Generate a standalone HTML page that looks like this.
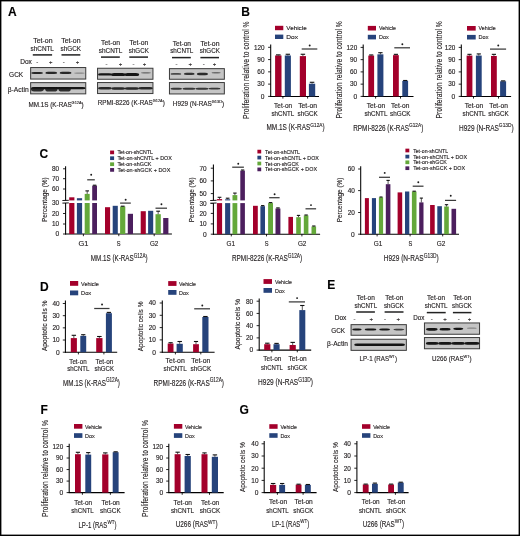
<!DOCTYPE html>
<html><head><meta charset="utf-8"><style>
html,body{margin:0;padding:0;background:#fff;overflow:hidden;}
svg{display:block;will-change:transform;}
text{font-family:"Liberation Sans",sans-serif;stroke:#231f20;stroke-width:0.14px;}
</style></head><body>
<svg width="520" height="536" viewBox="0 0 520 536">
<defs>
<filter id="bl" x="-20%" y="-100%" width="140%" height="300%"><feGaussianBlur stdDeviation="0.6"/></filter>
</defs>
<rect x="0" y="0" width="520" height="536" fill="#fff"/>

<rect x="0.00" y="0.00" width="520.00" height="536.00" fill="none" stroke="#000" stroke-width="2.8"/>
<text x="7.90" y="16.00" font-size="12" font-weight="bold" fill="#000">A</text>
<text x="241.20" y="15.70" font-size="12" font-weight="bold" fill="#000">B</text>
<text x="39.60" y="157.50" font-size="12" font-weight="bold" fill="#000">C</text>
<text x="40.00" y="290.60" font-size="12" font-weight="bold" fill="#000">D</text>
<text x="327.20" y="288.80" font-size="12" font-weight="bold" fill="#000">E</text>
<text x="40.50" y="414.00" font-size="12" font-weight="bold" fill="#000">F</text>
<text x="239.40" y="413.60" font-size="12" font-weight="bold" fill="#000">G</text>
<text x="33.30" y="42.90" font-size="6.4" textLength="19.20" lengthAdjust="spacingAndGlyphs" fill="#231f20">Tet-on</text>
<text x="30.60" y="50.90" font-size="6.4" textLength="23.30" lengthAdjust="spacingAndGlyphs" fill="#231f20">shCNTL</text>
<text x="61.30" y="42.90" font-size="6.4" textLength="19.20" lengthAdjust="spacingAndGlyphs" fill="#231f20">Tet-on</text>
<text x="60.60" y="50.90" font-size="6.4" textLength="20.50" lengthAdjust="spacingAndGlyphs" fill="#231f20">shGCK</text>
<line x1="32.80" y1="54.90" x2="52.10" y2="54.90" stroke="#222" stroke-width="1.5"/>
<line x1="61.50" y1="54.90" x2="80.30" y2="54.90" stroke="#222" stroke-width="1.5"/>
<text x="37.30" y="63.80" font-size="6" text-anchor="middle" fill="#231f20">-</text>
<text x="50.70" y="63.80" font-size="6" text-anchor="middle" fill="#231f20">+</text>
<text x="63.80" y="63.80" font-size="6" text-anchor="middle" fill="#231f20">-</text>
<text x="77.60" y="63.80" font-size="6" text-anchor="middle" fill="#231f20">+</text>
<text x="20.20" y="63.80" font-size="6.4" textLength="11.70" lengthAdjust="spacingAndGlyphs" fill="#231f20">Dox</text>
<text x="9.10" y="77.00" font-size="6.9" textLength="14.10" lengthAdjust="spacingAndGlyphs" fill="#231f20">GCK</text>
<text x="7.70" y="91.70" font-size="6.9" textLength="21.00" lengthAdjust="spacingAndGlyphs" fill="#231f20">β-Actin</text>
<rect x="30.65" y="67.55" width="55.10" height="11.50" fill="#c5c5c5" stroke="#3a3a3a" stroke-width="1.0"/>
<rect x="30.65" y="82.65" width="55.10" height="11.20" fill="#c5c5c5" stroke="#3a3a3a" stroke-width="1.0"/>
<rect x="31.20" y="71.90" width="11.80" height="2.00" rx="3" ry="1.00" fill="#161616" opacity="0.9" filter="url(#bl)"/>
<rect x="45.30" y="71.85" width="11.90" height="2.10" rx="3" ry="1.05" fill="#161616" opacity="0.9" filter="url(#bl)"/>
<rect x="59.60" y="71.85" width="11.90" height="2.10" rx="3" ry="1.05" fill="#161616" opacity="0.9" filter="url(#bl)"/>
<rect x="74.00" y="72.45" width="10.80" height="1.30" rx="3" ry="0.65" fill="#161616" opacity="0.35" filter="url(#bl)"/>
<rect x="31.00" y="87.10" width="54.60" height="2.20" rx="3" ry="1.10" fill="#161616" opacity="1.0" filter="url(#bl)"/>
<rect x="31.00" y="87.20" width="12.70" height="4.20" rx="3" ry="2.10" fill="#161616" opacity="0.85" filter="url(#bl)"/>
<rect x="45.30" y="87.25" width="12.10" height="4.30" rx="3" ry="2.15" fill="#161616" opacity="0.85" filter="url(#bl)"/>
<rect x="58.60" y="87.25" width="12.10" height="4.30" rx="3" ry="2.15" fill="#161616" opacity="0.85" filter="url(#bl)"/>
<text x="28.50" y="106.90" font-size="6.8" textLength="55.20" lengthAdjust="spacingAndGlyphs" fill="#231f20">MM.1S (K-RAS<tspan font-size="4.22" dy="-3.06">G12A</tspan><tspan dy="3.06">)</tspan></text>
<text x="101.10" y="45.00" font-size="6.4" textLength="18.90" lengthAdjust="spacingAndGlyphs" fill="#231f20">Tet-on</text>
<text x="98.80" y="52.90" font-size="6.4" textLength="23.50" lengthAdjust="spacingAndGlyphs" fill="#231f20">shCNTL</text>
<text x="129.40" y="45.00" font-size="6.4" textLength="18.80" lengthAdjust="spacingAndGlyphs" fill="#231f20">Tet-on</text>
<text x="128.80" y="52.90" font-size="6.4" textLength="20.00" lengthAdjust="spacingAndGlyphs" fill="#231f20">shGCK</text>
<line x1="101.00" y1="57.10" x2="119.80" y2="57.10" stroke="#222" stroke-width="1.5"/>
<line x1="129.30" y1="57.10" x2="148.00" y2="57.10" stroke="#222" stroke-width="1.5"/>
<text x="106.50" y="66.30" font-size="6" text-anchor="middle" fill="#231f20">-</text>
<text x="120.40" y="66.30" font-size="6" text-anchor="middle" fill="#231f20">+</text>
<text x="133.60" y="66.30" font-size="6" text-anchor="middle" fill="#231f20">-</text>
<text x="144.40" y="66.30" font-size="6" text-anchor="middle" fill="#231f20">+</text>
<rect x="97.55" y="68.25" width="55.40" height="11.00" fill="#c5c5c5" stroke="#3a3a3a" stroke-width="1.0"/>
<rect x="97.55" y="82.55" width="55.40" height="11.00" fill="#c5c5c5" stroke="#3a3a3a" stroke-width="1.0"/>
<rect x="98.00" y="73.20" width="14.00" height="2.40" rx="3" ry="1.20" fill="#161616" opacity="1.0" filter="url(#bl)"/>
<rect x="111.00" y="72.90" width="14.50" height="3.00" rx="3" ry="1.50" fill="#161616" opacity="1.0" filter="url(#bl)"/>
<rect x="124.50" y="72.90" width="14.60" height="3.00" rx="3" ry="1.50" fill="#161616" opacity="1.0" filter="url(#bl)"/>
<rect x="140.90" y="72.15" width="10.10" height="1.30" rx="3" ry="0.65" fill="#161616" opacity="0.55" filter="url(#bl)"/>
<rect x="98.00" y="87.05" width="13.80" height="2.50" rx="3" ry="1.25" fill="#161616" opacity="0.9" filter="url(#bl)"/>
<rect x="111.30" y="87.25" width="13.90" height="2.50" rx="3" ry="1.25" fill="#161616" opacity="0.9" filter="url(#bl)"/>
<rect x="124.70" y="87.25" width="14.30" height="2.50" rx="3" ry="1.25" fill="#161616" opacity="0.9" filter="url(#bl)"/>
<rect x="138.50" y="87.00" width="14.30" height="2.40" rx="3" ry="1.20" fill="#161616" opacity="0.9" filter="url(#bl)"/>
<text x="97.70" y="105.40" font-size="6.8" textLength="67.10" lengthAdjust="spacingAndGlyphs" fill="#231f20">RPMI-8226 (K-RAS<tspan font-size="4.22" dy="-3.06">G12A</tspan><tspan dy="3.06">)</tspan></text>
<text x="172.70" y="45.50" font-size="6.4" textLength="18.30" lengthAdjust="spacingAndGlyphs" fill="#231f20">Tet-on</text>
<text x="170.20" y="53.30" font-size="6.4" textLength="23.10" lengthAdjust="spacingAndGlyphs" fill="#231f20">shCNTL</text>
<text x="200.40" y="45.50" font-size="6.4" textLength="19.10" lengthAdjust="spacingAndGlyphs" fill="#231f20">Tet-on</text>
<text x="199.80" y="53.30" font-size="6.4" textLength="20.00" lengthAdjust="spacingAndGlyphs" fill="#231f20">shGCK</text>
<line x1="172.00" y1="57.60" x2="190.80" y2="57.60" stroke="#222" stroke-width="1.5"/>
<line x1="200.40" y1="57.60" x2="219.00" y2="57.60" stroke="#222" stroke-width="1.5"/>
<text x="176.60" y="66.30" font-size="6" text-anchor="middle" fill="#231f20">-</text>
<text x="190.20" y="66.30" font-size="6" text-anchor="middle" fill="#231f20">+</text>
<text x="203.80" y="66.30" font-size="6" text-anchor="middle" fill="#231f20">-</text>
<text x="214.40" y="66.30" font-size="6" text-anchor="middle" fill="#231f20">+</text>
<rect x="169.45" y="68.65" width="54.90" height="10.60" fill="#c5c5c5" stroke="#3a3a3a" stroke-width="1.0"/>
<rect x="169.45" y="82.55" width="54.90" height="11.40" fill="#c5c5c5" stroke="#3a3a3a" stroke-width="1.0"/>
<rect x="170.50" y="72.95" width="10.80" height="1.90" rx="3" ry="0.95" fill="#161616" opacity="0.7" filter="url(#bl)"/>
<rect x="183.90" y="72.75" width="10.70" height="2.30" rx="3" ry="1.15" fill="#161616" opacity="0.82" filter="url(#bl)"/>
<rect x="196.80" y="72.65" width="11.20" height="2.50" rx="3" ry="1.25" fill="#161616" opacity="0.88" filter="url(#bl)"/>
<rect x="211.50" y="72.00" width="9.30" height="1.40" rx="3" ry="0.70" fill="#161616" opacity="0.5" filter="url(#bl)"/>
<rect x="170.50" y="87.65" width="11.50" height="2.10" rx="3" ry="1.05" fill="#161616" opacity="0.8" filter="url(#bl)"/>
<rect x="182.50" y="87.65" width="13.00" height="2.10" rx="3" ry="1.05" fill="#161616" opacity="0.8" filter="url(#bl)"/>
<rect x="195.50" y="87.65" width="13.00" height="2.10" rx="3" ry="1.05" fill="#161616" opacity="0.8" filter="url(#bl)"/>
<rect x="208.50" y="87.65" width="12.00" height="1.90" rx="3" ry="0.95" fill="#161616" opacity="0.8" filter="url(#bl)"/>
<text x="172.80" y="106.00" font-size="6.8" textLength="51.40" lengthAdjust="spacingAndGlyphs" fill="#231f20">H929 (N-RAS<tspan font-size="4.22" dy="-3.06">G13D</tspan><tspan dy="3.06">)</tspan></text>
<text x="356.70" y="300.00" font-size="6.4" textLength="18.10" lengthAdjust="spacingAndGlyphs" fill="#231f20">Tet-on</text>
<text x="354.40" y="307.70" font-size="6.4" textLength="22.70" lengthAdjust="spacingAndGlyphs" fill="#231f20">shCNTL</text>
<text x="385.20" y="300.00" font-size="6.4" textLength="18.10" lengthAdjust="spacingAndGlyphs" fill="#231f20">Tet-on</text>
<text x="384.00" y="307.70" font-size="6.4" textLength="20.00" lengthAdjust="spacingAndGlyphs" fill="#231f20">shGCK</text>
<line x1="356.20" y1="312.00" x2="374.90" y2="312.00" stroke="#222" stroke-width="1.5"/>
<line x1="384.60" y1="312.00" x2="403.50" y2="312.00" stroke="#222" stroke-width="1.5"/>
<text x="354.60" y="320.90" font-size="6" text-anchor="middle" fill="#231f20">-</text>
<text x="371.20" y="320.90" font-size="6" text-anchor="middle" fill="#231f20">+</text>
<text x="385.10" y="320.90" font-size="6" text-anchor="middle" fill="#231f20">-</text>
<text x="398.20" y="320.90" font-size="6" text-anchor="middle" fill="#231f20">+</text>
<text x="334.70" y="319.60" font-size="6.4" textLength="11.70" lengthAdjust="spacingAndGlyphs" fill="#231f20">Dox</text>
<text x="331.20" y="332.80" font-size="6.9" textLength="13.90" lengthAdjust="spacingAndGlyphs" fill="#231f20">GCK</text>
<text x="327.10" y="345.50" font-size="6.9" textLength="20.80" lengthAdjust="spacingAndGlyphs" fill="#231f20">β-Actin</text>
<rect x="351.05" y="324.65" width="55.30" height="10.60" fill="#c5c5c5" stroke="#3a3a3a" stroke-width="1.0"/>
<rect x="351.05" y="339.25" width="55.30" height="11.10" fill="#c5c5c5" stroke="#3a3a3a" stroke-width="1.0"/>
<rect x="352.20" y="328.60" width="9.50" height="1.80" rx="3" ry="0.90" fill="#161616" opacity="1.0" filter="url(#bl)"/>
<rect x="364.70" y="328.60" width="11.70" height="1.80" rx="3" ry="0.90" fill="#161616" opacity="1.0" filter="url(#bl)"/>
<rect x="379.20" y="328.60" width="10.80" height="1.80" rx="3" ry="0.90" fill="#161616" opacity="1.0" filter="url(#bl)"/>
<rect x="393.30" y="328.80" width="11.00" height="1.60" rx="3" ry="0.80" fill="#161616" opacity="0.75" filter="url(#bl)"/>
<rect x="354.20" y="343.55" width="50.80" height="2.50" rx="3" ry="1.25" fill="#161616" opacity="1.0" filter="url(#bl)"/>
<text x="359.60" y="360.90" font-size="6.9" textLength="37.40" lengthAdjust="spacingAndGlyphs" fill="#231f20">LP-1 (RAS<tspan font-size="4.28" dy="-3.11">WT</tspan><tspan dy="3.11">)</tspan></text>
<text x="427.00" y="300.00" font-size="6.4" textLength="18.10" lengthAdjust="spacingAndGlyphs" fill="#231f20">Tet-on</text>
<text x="424.70" y="307.70" font-size="6.4" textLength="22.70" lengthAdjust="spacingAndGlyphs" fill="#231f20">shCNTL</text>
<text x="453.20" y="300.00" font-size="6.4" textLength="18.10" lengthAdjust="spacingAndGlyphs" fill="#231f20">Tet-on</text>
<text x="452.10" y="307.70" font-size="6.4" textLength="19.90" lengthAdjust="spacingAndGlyphs" fill="#231f20">shGCK</text>
<line x1="426.80" y1="312.60" x2="445.70" y2="312.60" stroke="#222" stroke-width="1.5"/>
<line x1="452.90" y1="312.60" x2="471.40" y2="312.60" stroke="#222" stroke-width="1.5"/>
<text x="431.80" y="320.90" font-size="6" text-anchor="middle" fill="#231f20">-</text>
<text x="444.90" y="320.90" font-size="6" text-anchor="middle" fill="#231f20">+</text>
<text x="458.80" y="320.90" font-size="6" text-anchor="middle" fill="#231f20">-</text>
<text x="469.50" y="320.90" font-size="6" text-anchor="middle" fill="#231f20">+</text>
<text x="413.20" y="320.00" font-size="6.4" textLength="11.20" lengthAdjust="spacingAndGlyphs" fill="#231f20">Dox</text>
<rect x="424.45" y="322.95" width="55.10" height="11.30" fill="#c5c5c5" stroke="#3a3a3a" stroke-width="1.0"/>
<rect x="424.45" y="337.55" width="55.10" height="11.20" fill="#c5c5c5" stroke="#3a3a3a" stroke-width="1.0"/>
<rect x="426.00" y="327.95" width="11.70" height="2.70" rx="3" ry="1.35" fill="#161616" opacity="1.0" filter="url(#bl)"/>
<rect x="439.50" y="328.00" width="11.10" height="2.40" rx="3" ry="1.20" fill="#161616" opacity="1.0" filter="url(#bl)"/>
<rect x="453.20" y="327.70" width="10.10" height="2.20" rx="3" ry="1.10" fill="#161616" opacity="1.0" filter="url(#bl)"/>
<rect x="466.90" y="327.55" width="9.90" height="1.30" rx="3" ry="0.65" fill="#161616" opacity="0.35" filter="url(#bl)"/>
<rect x="425.80" y="342.10" width="12.70" height="2.60" rx="3" ry="1.30" fill="#161616" opacity="1.0" filter="url(#bl)"/>
<rect x="438.00" y="342.10" width="14.00" height="2.60" rx="3" ry="1.30" fill="#161616" opacity="1.0" filter="url(#bl)"/>
<rect x="451.50" y="342.10" width="13.50" height="2.60" rx="3" ry="1.30" fill="#161616" opacity="1.0" filter="url(#bl)"/>
<rect x="464.50" y="342.10" width="14.90" height="2.60" rx="3" ry="1.30" fill="#161616" opacity="1.0" filter="url(#bl)"/>
<text x="432.10" y="360.90" font-size="6.9" textLength="39.60" lengthAdjust="spacingAndGlyphs" fill="#231f20">U266 (RAS<tspan font-size="4.28" dy="-3.11">WT</tspan><tspan dy="3.11">)</tspan></text>
<line x1="270.70" y1="44.40" x2="270.70" y2="96.90" stroke="#000" stroke-width="1.05"/>
<line x1="270.20" y1="96.40" x2="319.00" y2="96.40" stroke="#000" stroke-width="1.05"/>
<line x1="268.10" y1="96.40" x2="270.70" y2="96.40" stroke="#000" stroke-width="0.85"/>
<text x="264.50" y="98.70" font-size="6.4" text-anchor="end" textLength="3.70" lengthAdjust="spacingAndGlyphs" fill="#231f20">0</text>
<line x1="268.10" y1="84.12" x2="270.70" y2="84.12" stroke="#000" stroke-width="0.85"/>
<text x="264.50" y="86.43" font-size="6.4" text-anchor="end" textLength="7.15" lengthAdjust="spacingAndGlyphs" fill="#231f20">30</text>
<line x1="268.10" y1="71.85" x2="270.70" y2="71.85" stroke="#000" stroke-width="0.85"/>
<text x="264.50" y="74.15" font-size="6.4" text-anchor="end" textLength="7.15" lengthAdjust="spacingAndGlyphs" fill="#231f20">60</text>
<line x1="268.10" y1="59.58" x2="270.70" y2="59.58" stroke="#000" stroke-width="0.85"/>
<text x="264.50" y="61.88" font-size="6.4" text-anchor="end" textLength="7.15" lengthAdjust="spacingAndGlyphs" fill="#231f20">90</text>
<line x1="268.10" y1="47.30" x2="270.70" y2="47.30" stroke="#000" stroke-width="0.85"/>
<text x="264.50" y="49.60" font-size="6.4" text-anchor="end" textLength="10.60" lengthAdjust="spacingAndGlyphs" fill="#231f20">120</text>
<line x1="282.90" y1="96.40" x2="282.90" y2="98.60" stroke="#000" stroke-width="0.85"/>
<line x1="307.60" y1="96.40" x2="307.60" y2="98.60" stroke="#000" stroke-width="0.85"/>
<rect x="275.10" y="55.48" width="6.40" height="40.92" fill="#a3002b"/>
<line x1="278.30" y1="55.48" x2="278.30" y2="54.87" stroke="#111" stroke-width="0.7"/>
<line x1="276.00" y1="54.87" x2="280.60" y2="54.87" stroke="#111" stroke-width="1.1"/>
<rect x="284.80" y="55.48" width="6.10" height="40.92" fill="#26437b"/>
<line x1="287.85" y1="55.48" x2="287.85" y2="54.26" stroke="#111" stroke-width="0.7"/>
<line x1="285.65" y1="54.26" x2="290.05" y2="54.26" stroke="#111" stroke-width="1.1"/>
<rect x="299.80" y="56.10" width="6.20" height="40.30" fill="#a3002b"/>
<line x1="302.90" y1="56.10" x2="302.90" y2="54.26" stroke="#111" stroke-width="0.7"/>
<line x1="300.67" y1="54.26" x2="305.13" y2="54.26" stroke="#111" stroke-width="1.1"/>
<rect x="308.90" y="83.72" width="6.30" height="12.68" fill="#26437b"/>
<line x1="312.05" y1="83.72" x2="312.05" y2="82.28" stroke="#111" stroke-width="0.7"/>
<line x1="309.78" y1="82.28" x2="314.32" y2="82.28" stroke="#111" stroke-width="1.1"/>
<line x1="301.70" y1="49.00" x2="317.30" y2="49.00" stroke="#3a3a3a" stroke-width="1.25"/>
<circle cx="309.70" cy="45.50" r="0.95" fill="#1a1a1a"/>
<rect x="275.00" y="25.80" width="8.30" height="4.40" fill="#a3002b"/>
<rect x="275.00" y="34.60" width="8.30" height="4.40" fill="#26437b"/>
<text x="286.30" y="30.23" font-size="6.2" textLength="20.40" lengthAdjust="spacingAndGlyphs" fill="#231f20">Vehicle</text>
<text x="286.30" y="39.03" font-size="6.2" textLength="11.73" lengthAdjust="spacingAndGlyphs" fill="#231f20">Dox</text>
<text transform="translate(248.90,70.20) rotate(-90)" text-anchor="middle" font-size="8.2" textLength="97.60" lengthAdjust="spacingAndGlyphs" fill="#231f20">Proliferation relative to control %</text>
<text x="274.10" y="107.60" font-size="6.6" textLength="18.00" lengthAdjust="spacingAndGlyphs" fill="#231f20">Tet-on</text>
<text x="271.50" y="115.70" font-size="6.6" textLength="22.70" lengthAdjust="spacingAndGlyphs" fill="#231f20">shCNTL</text>
<text x="298.20" y="107.60" font-size="6.6" textLength="18.90" lengthAdjust="spacingAndGlyphs" fill="#231f20">Tet-on</text>
<text x="297.50" y="115.70" font-size="6.6" textLength="20.30" lengthAdjust="spacingAndGlyphs" fill="#231f20">shGCK</text>
<text x="266.50" y="130.30" font-size="8.4" textLength="58.10" lengthAdjust="spacingAndGlyphs" fill="#231f20">MM.1S (K-RAS<tspan font-size="6.22" dy="-3.53">G12A</tspan><tspan dy="3.53">)</tspan></text>
<line x1="363.20" y1="44.60" x2="363.20" y2="96.90" stroke="#000" stroke-width="1.05"/>
<line x1="362.70" y1="96.40" x2="413.50" y2="96.40" stroke="#000" stroke-width="1.05"/>
<line x1="360.60" y1="96.40" x2="363.20" y2="96.40" stroke="#000" stroke-width="0.85"/>
<text x="357.20" y="98.70" font-size="6.4" text-anchor="end" textLength="3.70" lengthAdjust="spacingAndGlyphs" fill="#231f20">0</text>
<line x1="360.60" y1="84.15" x2="363.20" y2="84.15" stroke="#000" stroke-width="0.85"/>
<text x="357.20" y="86.45" font-size="6.4" text-anchor="end" textLength="7.15" lengthAdjust="spacingAndGlyphs" fill="#231f20">30</text>
<line x1="360.60" y1="71.90" x2="363.20" y2="71.90" stroke="#000" stroke-width="0.85"/>
<text x="357.20" y="74.20" font-size="6.4" text-anchor="end" textLength="7.15" lengthAdjust="spacingAndGlyphs" fill="#231f20">60</text>
<line x1="360.60" y1="59.65" x2="363.20" y2="59.65" stroke="#000" stroke-width="0.85"/>
<text x="357.20" y="61.95" font-size="6.4" text-anchor="end" textLength="7.15" lengthAdjust="spacingAndGlyphs" fill="#231f20">90</text>
<line x1="360.60" y1="47.40" x2="363.20" y2="47.40" stroke="#000" stroke-width="0.85"/>
<text x="357.20" y="49.70" font-size="6.4" text-anchor="end" textLength="10.60" lengthAdjust="spacingAndGlyphs" fill="#231f20">120</text>
<line x1="375.60" y1="96.40" x2="375.60" y2="98.60" stroke="#000" stroke-width="0.85"/>
<line x1="400.50" y1="96.40" x2="400.50" y2="98.60" stroke="#000" stroke-width="0.85"/>
<rect x="368.30" y="55.57" width="5.80" height="40.83" fill="#a3002b"/>
<line x1="371.20" y1="55.57" x2="371.20" y2="54.95" stroke="#111" stroke-width="0.7"/>
<line x1="369.11" y1="54.95" x2="373.29" y2="54.95" stroke="#111" stroke-width="1.1"/>
<rect x="377.40" y="54.34" width="6.00" height="42.06" fill="#26437b"/>
<line x1="380.40" y1="54.34" x2="380.40" y2="52.71" stroke="#111" stroke-width="0.7"/>
<line x1="378.24" y1="52.71" x2="382.56" y2="52.71" stroke="#111" stroke-width="1.1"/>
<rect x="393.00" y="55.16" width="5.80" height="41.24" fill="#a3002b"/>
<line x1="395.90" y1="55.16" x2="395.90" y2="54.34" stroke="#111" stroke-width="0.7"/>
<line x1="393.81" y1="54.34" x2="397.99" y2="54.34" stroke="#111" stroke-width="1.1"/>
<rect x="402.30" y="80.88" width="5.80" height="15.52" fill="#26437b"/>
<line x1="405.20" y1="80.88" x2="405.20" y2="80.48" stroke="#111" stroke-width="0.7"/>
<line x1="403.11" y1="80.48" x2="407.29" y2="80.48" stroke="#111" stroke-width="1.1"/>
<line x1="394.30" y1="47.80" x2="410.00" y2="47.80" stroke="#3a3a3a" stroke-width="1.25"/>
<circle cx="402.35" cy="44.30" r="0.95" fill="#1a1a1a"/>
<rect x="367.80" y="25.90" width="8.20" height="4.60" fill="#a3002b"/>
<rect x="367.80" y="34.80" width="8.20" height="4.60" fill="#26437b"/>
<text x="379.10" y="30.32" font-size="5.9" textLength="16.90" lengthAdjust="spacingAndGlyphs" fill="#231f20">Vehicle</text>
<text x="379.10" y="39.22" font-size="5.9" textLength="9.72" lengthAdjust="spacingAndGlyphs" fill="#231f20">Dox</text>
<text transform="translate(342.20,69.90) rotate(-90)" text-anchor="middle" font-size="8.2" textLength="97.40" lengthAdjust="spacingAndGlyphs" fill="#231f20">Proliferation relative to control %</text>
<text x="366.70" y="107.60" font-size="6.6" textLength="18.60" lengthAdjust="spacingAndGlyphs" fill="#231f20">Tet-on</text>
<text x="364.40" y="115.70" font-size="6.6" textLength="23.00" lengthAdjust="spacingAndGlyphs" fill="#231f20">shCNTL</text>
<text x="391.00" y="107.60" font-size="6.6" textLength="18.40" lengthAdjust="spacingAndGlyphs" fill="#231f20">Tet-on</text>
<text x="390.10" y="115.70" font-size="6.6" textLength="20.40" lengthAdjust="spacingAndGlyphs" fill="#231f20">shGCK</text>
<text x="353.20" y="130.80" font-size="8.4" textLength="70.10" lengthAdjust="spacingAndGlyphs" fill="#231f20">RPMI-8226 (K-RAS<tspan font-size="6.22" dy="-3.53">G12A</tspan><tspan dy="3.53">)</tspan></text>
<line x1="461.30" y1="44.60" x2="461.30" y2="96.90" stroke="#000" stroke-width="1.05"/>
<line x1="460.80" y1="96.40" x2="511.10" y2="96.40" stroke="#000" stroke-width="1.05"/>
<line x1="458.70" y1="96.40" x2="461.30" y2="96.40" stroke="#000" stroke-width="0.85"/>
<text x="455.30" y="98.70" font-size="6.4" text-anchor="end" textLength="3.70" lengthAdjust="spacingAndGlyphs" fill="#231f20">0</text>
<line x1="458.70" y1="84.15" x2="461.30" y2="84.15" stroke="#000" stroke-width="0.85"/>
<text x="455.30" y="86.45" font-size="6.4" text-anchor="end" textLength="7.15" lengthAdjust="spacingAndGlyphs" fill="#231f20">30</text>
<line x1="458.70" y1="71.90" x2="461.30" y2="71.90" stroke="#000" stroke-width="0.85"/>
<text x="455.30" y="74.20" font-size="6.4" text-anchor="end" textLength="7.15" lengthAdjust="spacingAndGlyphs" fill="#231f20">60</text>
<line x1="458.70" y1="59.65" x2="461.30" y2="59.65" stroke="#000" stroke-width="0.85"/>
<text x="455.30" y="61.95" font-size="6.4" text-anchor="end" textLength="7.15" lengthAdjust="spacingAndGlyphs" fill="#231f20">90</text>
<line x1="458.70" y1="47.40" x2="461.30" y2="47.40" stroke="#000" stroke-width="0.85"/>
<text x="455.30" y="49.70" font-size="6.4" text-anchor="end" textLength="10.60" lengthAdjust="spacingAndGlyphs" fill="#231f20">120</text>
<line x1="473.50" y1="96.40" x2="473.50" y2="98.60" stroke="#000" stroke-width="0.85"/>
<line x1="498.50" y1="96.40" x2="498.50" y2="98.60" stroke="#000" stroke-width="0.85"/>
<rect x="466.60" y="55.57" width="5.80" height="40.83" fill="#a3002b"/>
<line x1="469.50" y1="55.57" x2="469.50" y2="54.34" stroke="#111" stroke-width="0.7"/>
<line x1="467.41" y1="54.34" x2="471.59" y2="54.34" stroke="#111" stroke-width="1.1"/>
<rect x="475.90" y="55.57" width="5.80" height="40.83" fill="#26437b"/>
<line x1="478.80" y1="55.57" x2="478.80" y2="53.93" stroke="#111" stroke-width="0.7"/>
<line x1="476.71" y1="53.93" x2="480.89" y2="53.93" stroke="#111" stroke-width="1.1"/>
<rect x="491.00" y="55.98" width="5.80" height="40.43" fill="#a3002b"/>
<line x1="493.90" y1="55.98" x2="493.90" y2="54.34" stroke="#111" stroke-width="0.7"/>
<line x1="491.81" y1="54.34" x2="495.99" y2="54.34" stroke="#111" stroke-width="1.1"/>
<rect x="500.10" y="81.29" width="6.00" height="15.11" fill="#26437b"/>
<line x1="503.10" y1="81.29" x2="503.10" y2="80.88" stroke="#111" stroke-width="0.7"/>
<line x1="500.94" y1="80.88" x2="505.26" y2="80.88" stroke="#111" stroke-width="1.1"/>
<line x1="490.00" y1="49.10" x2="506.10" y2="49.10" stroke="#3a3a3a" stroke-width="1.25"/>
<circle cx="498.25" cy="45.50" r="0.95" fill="#1a1a1a"/>
<rect x="467.00" y="26.00" width="8.70" height="4.60" fill="#a3002b"/>
<rect x="467.00" y="34.90" width="8.70" height="4.60" fill="#26437b"/>
<text x="478.50" y="30.42" font-size="5.9" textLength="17.30" lengthAdjust="spacingAndGlyphs" fill="#231f20">Vehicle</text>
<text x="478.50" y="39.32" font-size="5.9" textLength="9.95" lengthAdjust="spacingAndGlyphs" fill="#231f20">Dox</text>
<text transform="translate(441.50,69.90) rotate(-90)" text-anchor="middle" font-size="8.2" textLength="97.40" lengthAdjust="spacingAndGlyphs" fill="#231f20">Proliferation relative to control %</text>
<text x="464.70" y="107.60" font-size="6.6" textLength="18.60" lengthAdjust="spacingAndGlyphs" fill="#231f20">Tet-on</text>
<text x="462.60" y="115.70" font-size="6.6" textLength="23.00" lengthAdjust="spacingAndGlyphs" fill="#231f20">shCNTL</text>
<text x="489.30" y="107.60" font-size="6.6" textLength="18.60" lengthAdjust="spacingAndGlyphs" fill="#231f20">Tet-on</text>
<text x="488.30" y="115.70" font-size="6.6" textLength="20.40" lengthAdjust="spacingAndGlyphs" fill="#231f20">shGCK</text>
<text x="459.00" y="130.80" font-size="8.4" textLength="54.70" lengthAdjust="spacingAndGlyphs" fill="#231f20">H929 (N-RAS<tspan font-size="6.22" dy="-3.53">G13D</tspan><tspan dy="3.53">)</tspan></text>
<line x1="65.60" y1="166.20" x2="65.60" y2="234.50" stroke="#000" stroke-width="1.05"/>
<line x1="65.10" y1="234.00" x2="171.90" y2="234.00" stroke="#000" stroke-width="1.05"/>
<line x1="63.00" y1="168.80" x2="65.60" y2="168.80" stroke="#000" stroke-width="0.85"/>
<text x="59.10" y="171.10" font-size="6.4" text-anchor="end" textLength="7.15" lengthAdjust="spacingAndGlyphs" fill="#231f20">80</text>
<line x1="63.00" y1="178.70" x2="65.60" y2="178.70" stroke="#000" stroke-width="0.85"/>
<text x="59.10" y="181.00" font-size="6.4" text-anchor="end" textLength="7.15" lengthAdjust="spacingAndGlyphs" fill="#231f20">70</text>
<line x1="63.00" y1="189.00" x2="65.60" y2="189.00" stroke="#000" stroke-width="0.85"/>
<text x="59.10" y="191.30" font-size="6.4" text-anchor="end" textLength="7.15" lengthAdjust="spacingAndGlyphs" fill="#231f20">60</text>
<line x1="63.00" y1="202.60" x2="65.60" y2="202.60" stroke="#000" stroke-width="0.85"/>
<text x="59.10" y="204.90" font-size="6.4" text-anchor="end" textLength="7.15" lengthAdjust="spacingAndGlyphs" fill="#231f20">30</text>
<line x1="63.00" y1="213.50" x2="65.60" y2="213.50" stroke="#000" stroke-width="0.85"/>
<text x="59.10" y="215.80" font-size="6.4" text-anchor="end" textLength="7.15" lengthAdjust="spacingAndGlyphs" fill="#231f20">20</text>
<line x1="63.00" y1="224.00" x2="65.60" y2="224.00" stroke="#000" stroke-width="0.85"/>
<text x="59.10" y="226.30" font-size="6.4" text-anchor="end" textLength="7.15" lengthAdjust="spacingAndGlyphs" fill="#231f20">10</text>
<line x1="63.00" y1="234.00" x2="65.60" y2="234.00" stroke="#000" stroke-width="0.85"/>
<text x="59.10" y="236.30" font-size="6.4" text-anchor="end" textLength="3.70" lengthAdjust="spacingAndGlyphs" fill="#231f20">0</text>
<line x1="83.40" y1="234.00" x2="83.40" y2="236.20" stroke="#000" stroke-width="0.85"/>
<line x1="118.80" y1="234.00" x2="118.80" y2="236.20" stroke="#000" stroke-width="0.85"/>
<line x1="154.20" y1="234.00" x2="154.20" y2="236.20" stroke="#000" stroke-width="0.85"/>
<rect x="69.20" y="197.30" width="5.20" height="36.70" fill="#a3002b"/>
<rect x="76.90" y="198.20" width="5.20" height="35.80" fill="#26437b"/>
<rect x="84.70" y="193.90" width="5.00" height="40.10" fill="#64a83a"/>
<line x1="87.20" y1="193.90" x2="87.20" y2="190.90" stroke="#111" stroke-width="0.7"/>
<line x1="85.40" y1="190.90" x2="89.00" y2="190.90" stroke="#111" stroke-width="1.1"/>
<rect x="92.20" y="185.60" width="4.80" height="48.40" fill="#4c1f5e"/>
<line x1="94.60" y1="185.60" x2="94.60" y2="185.20" stroke="#111" stroke-width="0.7"/>
<line x1="92.87" y1="185.20" x2="96.33" y2="185.20" stroke="#111" stroke-width="1.1"/>
<rect x="105.00" y="207.20" width="5.10" height="26.80" fill="#a3002b"/>
<rect x="112.70" y="205.80" width="5.10" height="28.20" fill="#26437b"/>
<rect x="120.10" y="206.50" width="5.20" height="27.50" fill="#64a83a"/>
<line x1="122.70" y1="206.50" x2="122.70" y2="206.20" stroke="#111" stroke-width="0.7"/>
<line x1="120.83" y1="206.20" x2="124.57" y2="206.20" stroke="#111" stroke-width="1.1"/>
<rect x="127.80" y="213.80" width="5.20" height="20.20" fill="#4c1f5e"/>
<rect x="140.70" y="211.20" width="5.10" height="22.80" fill="#a3002b"/>
<rect x="148.10" y="210.80" width="5.10" height="23.20" fill="#26437b"/>
<rect x="155.50" y="214.20" width="5.30" height="19.80" fill="#64a83a"/>
<line x1="158.15" y1="214.20" x2="158.15" y2="211.20" stroke="#111" stroke-width="0.7"/>
<line x1="156.24" y1="211.20" x2="160.06" y2="211.20" stroke="#111" stroke-width="1.1"/>
<rect x="163.20" y="218.00" width="5.20" height="16.00" fill="#4c1f5e"/>
<rect x="61.60" y="200.40" width="38.40" height="2.60" fill="#fff"/>
<line x1="62.40" y1="200.50" x2="68.80" y2="200.30" stroke="#000" stroke-width="0.9"/>
<line x1="62.40" y1="203.10" x2="68.80" y2="202.90" stroke="#000" stroke-width="0.9"/>
<line x1="87.20" y1="179.80" x2="94.80" y2="179.80" stroke="#3a3a3a" stroke-width="1.25"/>
<circle cx="91.20" cy="174.80" r="0.95" fill="#1a1a1a"/>
<line x1="120.10" y1="203.10" x2="130.80" y2="203.10" stroke="#3a3a3a" stroke-width="1.25"/>
<circle cx="125.65" cy="199.70" r="0.95" fill="#1a1a1a"/>
<line x1="155.50" y1="208.20" x2="167.00" y2="208.20" stroke="#3a3a3a" stroke-width="1.25"/>
<circle cx="161.45" cy="204.20" r="0.95" fill="#1a1a1a"/>
<rect x="110.10" y="150.55" width="4.00" height="3.70" fill="#a3002b"/>
<text x="117.40" y="154.42" font-size="5.6" textLength="35.40" lengthAdjust="spacingAndGlyphs" fill="#231f20">Tet-on-shCNTL</text>
<rect x="110.10" y="156.35" width="4.00" height="3.70" fill="#26437b"/>
<text x="117.40" y="160.22" font-size="5.6" textLength="54.50" lengthAdjust="spacingAndGlyphs" fill="#231f20">Tet-on-shCNTL + DOX</text>
<rect x="110.10" y="162.35" width="4.00" height="3.70" fill="#64a83a"/>
<text x="117.40" y="166.22" font-size="5.6" textLength="34.00" lengthAdjust="spacingAndGlyphs" fill="#231f20">Tet-on-shGCK</text>
<rect x="110.10" y="168.05" width="4.00" height="3.70" fill="#4c1f5e"/>
<text x="117.40" y="171.92" font-size="5.6" textLength="52.90" lengthAdjust="spacingAndGlyphs" fill="#231f20">Tet-on-shGCK + DOX</text>
<text transform="translate(47.30,199.70) rotate(-90)" text-anchor="middle" font-size="7.4" textLength="44.80" lengthAdjust="spacingAndGlyphs" fill="#231f20">Percentage (%)</text>
<text x="78.40" y="246.40" font-size="6.6" textLength="9.90" lengthAdjust="spacingAndGlyphs" fill="#231f20">G1</text>
<text x="116.80" y="246.20" font-size="6.6" textLength="3.80" lengthAdjust="spacingAndGlyphs" fill="#231f20">S</text>
<text x="149.90" y="246.20" font-size="6.6" textLength="8.40" lengthAdjust="spacingAndGlyphs" fill="#231f20">G2</text>
<text x="90.80" y="261.20" font-size="8.8" textLength="56.80" lengthAdjust="spacingAndGlyphs" fill="#231f20">MM.1S (K-RAS<tspan font-size="6.51" dy="-3.70">G12A</tspan><tspan dy="3.70">)</tspan></text>
<line x1="213.40" y1="164.60" x2="213.40" y2="234.70" stroke="#000" stroke-width="1.05"/>
<line x1="212.90" y1="234.20" x2="320.10" y2="234.20" stroke="#000" stroke-width="1.05"/>
<line x1="210.80" y1="168.20" x2="213.40" y2="168.20" stroke="#000" stroke-width="0.85"/>
<text x="206.60" y="170.50" font-size="6.4" text-anchor="end" textLength="7.15" lengthAdjust="spacingAndGlyphs" fill="#231f20">70</text>
<line x1="210.80" y1="180.90" x2="213.40" y2="180.90" stroke="#000" stroke-width="0.85"/>
<text x="206.60" y="183.20" font-size="6.4" text-anchor="end" textLength="7.15" lengthAdjust="spacingAndGlyphs" fill="#231f20">60</text>
<line x1="210.80" y1="193.60" x2="213.40" y2="193.60" stroke="#000" stroke-width="0.85"/>
<text x="206.60" y="195.90" font-size="6.4" text-anchor="end" textLength="7.15" lengthAdjust="spacingAndGlyphs" fill="#231f20">50</text>
<line x1="210.80" y1="203.30" x2="213.40" y2="203.30" stroke="#000" stroke-width="0.85"/>
<text x="206.60" y="205.60" font-size="6.4" text-anchor="end" textLength="7.15" lengthAdjust="spacingAndGlyphs" fill="#231f20">30</text>
<line x1="210.80" y1="213.40" x2="213.40" y2="213.40" stroke="#000" stroke-width="0.85"/>
<text x="206.60" y="215.70" font-size="6.4" text-anchor="end" textLength="7.15" lengthAdjust="spacingAndGlyphs" fill="#231f20">20</text>
<line x1="210.80" y1="223.90" x2="213.40" y2="223.90" stroke="#000" stroke-width="0.85"/>
<text x="206.60" y="226.20" font-size="6.4" text-anchor="end" textLength="7.15" lengthAdjust="spacingAndGlyphs" fill="#231f20">10</text>
<line x1="210.80" y1="234.20" x2="213.40" y2="234.20" stroke="#000" stroke-width="0.85"/>
<text x="206.60" y="236.50" font-size="6.4" text-anchor="end" textLength="3.70" lengthAdjust="spacingAndGlyphs" fill="#231f20">0</text>
<line x1="231.30" y1="234.20" x2="231.30" y2="236.40" stroke="#000" stroke-width="0.85"/>
<line x1="266.50" y1="234.20" x2="266.50" y2="236.40" stroke="#000" stroke-width="0.85"/>
<line x1="301.90" y1="234.20" x2="301.90" y2="236.40" stroke="#000" stroke-width="0.85"/>
<rect x="216.90" y="199.10" width="5.20" height="35.10" fill="#a3002b"/>
<line x1="219.50" y1="199.10" x2="219.50" y2="197.30" stroke="#111" stroke-width="0.7"/>
<line x1="217.63" y1="197.30" x2="221.37" y2="197.30" stroke="#111" stroke-width="1.1"/>
<rect x="225.10" y="199.30" width="5.10" height="34.90" fill="#26437b"/>
<line x1="227.65" y1="199.30" x2="227.65" y2="198.20" stroke="#111" stroke-width="0.7"/>
<line x1="225.81" y1="198.20" x2="229.49" y2="198.20" stroke="#111" stroke-width="1.1"/>
<rect x="232.50" y="195.10" width="4.80" height="39.10" fill="#64a83a"/>
<line x1="234.90" y1="195.10" x2="234.90" y2="193.10" stroke="#111" stroke-width="0.7"/>
<line x1="233.17" y1="193.10" x2="236.63" y2="193.10" stroke="#111" stroke-width="1.1"/>
<rect x="240.30" y="170.60" width="4.60" height="63.60" fill="#4c1f5e"/>
<line x1="242.60" y1="170.60" x2="242.60" y2="170.00" stroke="#111" stroke-width="0.7"/>
<line x1="240.94" y1="170.00" x2="244.26" y2="170.00" stroke="#111" stroke-width="1.1"/>
<rect x="253.00" y="205.80" width="4.80" height="28.40" fill="#a3002b"/>
<rect x="260.40" y="206.20" width="4.60" height="28.00" fill="#26437b"/>
<line x1="262.70" y1="206.20" x2="262.70" y2="205.60" stroke="#111" stroke-width="0.7"/>
<line x1="261.04" y1="205.60" x2="264.36" y2="205.60" stroke="#111" stroke-width="1.1"/>
<rect x="268.10" y="203.10" width="4.90" height="31.10" fill="#64a83a"/>
<line x1="270.55" y1="203.10" x2="270.55" y2="202.60" stroke="#111" stroke-width="0.7"/>
<line x1="268.79" y1="202.60" x2="272.31" y2="202.60" stroke="#111" stroke-width="1.1"/>
<rect x="275.50" y="208.50" width="4.90" height="25.70" fill="#4c1f5e"/>
<line x1="277.95" y1="208.50" x2="277.95" y2="207.90" stroke="#111" stroke-width="0.7"/>
<line x1="276.19" y1="207.90" x2="279.71" y2="207.90" stroke="#111" stroke-width="1.1"/>
<rect x="288.40" y="216.90" width="4.60" height="17.30" fill="#a3002b"/>
<rect x="296.20" y="217.20" width="4.60" height="17.00" fill="#64a83a"/>
<line x1="298.50" y1="217.20" x2="298.50" y2="215.40" stroke="#111" stroke-width="0.7"/>
<line x1="296.84" y1="215.40" x2="300.16" y2="215.40" stroke="#111" stroke-width="1.1"/>
<rect x="303.80" y="215.40" width="4.60" height="18.80" fill="#64a83a"/>
<line x1="306.10" y1="215.40" x2="306.10" y2="215.00" stroke="#111" stroke-width="0.7"/>
<line x1="304.44" y1="215.00" x2="307.76" y2="215.00" stroke="#111" stroke-width="1.1"/>
<rect x="311.50" y="226.50" width="4.60" height="7.70" fill="#64a83a"/>
<line x1="313.80" y1="226.50" x2="313.80" y2="226.00" stroke="#111" stroke-width="0.7"/>
<line x1="312.14" y1="226.00" x2="315.46" y2="226.00" stroke="#111" stroke-width="1.1"/>
<rect x="209.40" y="200.40" width="40.60" height="2.70" fill="#fff"/>
<line x1="210.20" y1="200.50" x2="216.60" y2="200.30" stroke="#000" stroke-width="0.9"/>
<line x1="210.20" y1="203.20" x2="216.60" y2="203.00" stroke="#000" stroke-width="0.9"/>
<line x1="232.20" y1="167.20" x2="243.90" y2="167.20" stroke="#3a3a3a" stroke-width="1.25"/>
<circle cx="238.25" cy="163.80" r="0.95" fill="#1a1a1a"/>
<line x1="269.20" y1="197.70" x2="279.60" y2="197.70" stroke="#3a3a3a" stroke-width="1.25"/>
<circle cx="274.60" cy="194.30" r="0.95" fill="#1a1a1a"/>
<line x1="305.50" y1="208.80" x2="316.10" y2="208.80" stroke="#3a3a3a" stroke-width="1.25"/>
<circle cx="311.00" cy="205.10" r="0.95" fill="#1a1a1a"/>
<rect x="257.40" y="149.75" width="3.80" height="3.70" fill="#a3002b"/>
<text x="265.10" y="153.62" font-size="5.6" textLength="34.90" lengthAdjust="spacingAndGlyphs" fill="#231f20">Tet-on-shCNTL</text>
<rect x="257.40" y="155.75" width="3.80" height="3.70" fill="#26437b"/>
<text x="265.10" y="159.62" font-size="5.6" textLength="53.80" lengthAdjust="spacingAndGlyphs" fill="#231f20">Tet-on-shCNTL + DOX</text>
<rect x="257.40" y="161.65" width="3.80" height="3.70" fill="#64a83a"/>
<text x="265.10" y="165.52" font-size="5.6" textLength="33.70" lengthAdjust="spacingAndGlyphs" fill="#231f20">Tet-on-shGCK</text>
<rect x="257.40" y="167.55" width="3.80" height="3.70" fill="#4c1f5e"/>
<text x="265.10" y="171.42" font-size="5.6" textLength="51.90" lengthAdjust="spacingAndGlyphs" fill="#231f20">Tet-on-shGCK + DOX</text>
<text transform="translate(194.20,199.80) rotate(-90)" text-anchor="middle" font-size="7.4" textLength="44.80" lengthAdjust="spacingAndGlyphs" fill="#231f20">Percentage (%)</text>
<text x="226.60" y="246.00" font-size="6.6" textLength="8.50" lengthAdjust="spacingAndGlyphs" fill="#231f20">G1</text>
<text x="264.80" y="246.00" font-size="6.6" textLength="3.80" lengthAdjust="spacingAndGlyphs" fill="#231f20">S</text>
<text x="297.90" y="246.00" font-size="6.6" textLength="8.50" lengthAdjust="spacingAndGlyphs" fill="#231f20">G2</text>
<text x="231.90" y="261.30" font-size="8.8" textLength="70.20" lengthAdjust="spacingAndGlyphs" fill="#231f20">RPMI-8226 (K-RAS<tspan font-size="6.51" dy="-3.70">G12A</tspan><tspan dy="3.70">)</tspan></text>
<line x1="360.70" y1="166.30" x2="360.70" y2="234.70" stroke="#000" stroke-width="1.05"/>
<line x1="360.20" y1="234.20" x2="459.00" y2="234.20" stroke="#000" stroke-width="1.05"/>
<line x1="358.10" y1="169.00" x2="360.70" y2="169.00" stroke="#000" stroke-width="0.85"/>
<text x="354.80" y="171.30" font-size="6.4" text-anchor="end" textLength="7.15" lengthAdjust="spacingAndGlyphs" fill="#231f20">60</text>
<line x1="358.10" y1="190.60" x2="360.70" y2="190.60" stroke="#000" stroke-width="0.85"/>
<text x="354.80" y="192.90" font-size="6.4" text-anchor="end" textLength="7.15" lengthAdjust="spacingAndGlyphs" fill="#231f20">40</text>
<line x1="358.10" y1="212.50" x2="360.70" y2="212.50" stroke="#000" stroke-width="0.85"/>
<text x="354.80" y="214.80" font-size="6.4" text-anchor="end" textLength="7.15" lengthAdjust="spacingAndGlyphs" fill="#231f20">20</text>
<line x1="358.10" y1="234.20" x2="360.70" y2="234.20" stroke="#000" stroke-width="0.85"/>
<text x="354.80" y="236.50" font-size="6.4" text-anchor="end" textLength="3.70" lengthAdjust="spacingAndGlyphs" fill="#231f20">0</text>
<line x1="377.10" y1="234.20" x2="377.10" y2="236.40" stroke="#000" stroke-width="0.85"/>
<line x1="410.10" y1="234.20" x2="410.10" y2="236.40" stroke="#000" stroke-width="0.85"/>
<line x1="442.70" y1="234.20" x2="442.70" y2="236.40" stroke="#000" stroke-width="0.85"/>
<rect x="364.90" y="198.10" width="4.00" height="36.10" fill="#a3002b"/>
<rect x="371.90" y="198.10" width="4.10" height="36.10" fill="#26437b"/>
<rect x="378.90" y="197.30" width="4.20" height="36.90" fill="#64a83a"/>
<line x1="381.00" y1="197.30" x2="381.00" y2="197.00" stroke="#111" stroke-width="0.7"/>
<line x1="379.49" y1="197.00" x2="382.51" y2="197.00" stroke="#111" stroke-width="1.1"/>
<rect x="385.80" y="184.20" width="4.60" height="50.00" fill="#4c1f5e"/>
<line x1="388.10" y1="184.20" x2="388.10" y2="180.40" stroke="#111" stroke-width="0.7"/>
<line x1="386.44" y1="180.40" x2="389.76" y2="180.40" stroke="#111" stroke-width="1.1"/>
<rect x="397.60" y="192.40" width="4.60" height="41.80" fill="#a3002b"/>
<rect x="405.00" y="191.50" width="4.30" height="42.70" fill="#26437b"/>
<rect x="411.90" y="191.50" width="4.60" height="42.70" fill="#64a83a"/>
<line x1="414.20" y1="191.50" x2="414.20" y2="191.20" stroke="#111" stroke-width="0.7"/>
<line x1="412.54" y1="191.20" x2="415.86" y2="191.20" stroke="#111" stroke-width="1.1"/>
<rect x="419.20" y="202.40" width="4.30" height="31.80" fill="#4c1f5e"/>
<line x1="421.35" y1="202.40" x2="421.35" y2="198.10" stroke="#111" stroke-width="0.7"/>
<line x1="419.80" y1="198.10" x2="422.90" y2="198.10" stroke="#111" stroke-width="1.1"/>
<rect x="430.10" y="205.00" width="4.60" height="29.20" fill="#a3002b"/>
<rect x="437.30" y="206.20" width="4.60" height="28.00" fill="#26437b"/>
<rect x="444.20" y="206.50" width="4.60" height="27.70" fill="#64a83a"/>
<line x1="446.50" y1="206.50" x2="446.50" y2="204.70" stroke="#111" stroke-width="0.7"/>
<line x1="444.84" y1="204.70" x2="448.16" y2="204.70" stroke="#111" stroke-width="1.1"/>
<rect x="451.50" y="208.80" width="4.60" height="25.40" fill="#4c1f5e"/>
<line x1="379.00" y1="177.30" x2="390.00" y2="177.30" stroke="#3a3a3a" stroke-width="1.25"/>
<circle cx="384.70" cy="172.90" r="0.95" fill="#1a1a1a"/>
<line x1="412.70" y1="186.20" x2="423.50" y2="186.20" stroke="#3a3a3a" stroke-width="1.25"/>
<circle cx="418.30" cy="182.20" r="0.95" fill="#1a1a1a"/>
<line x1="445.00" y1="200.40" x2="456.10" y2="200.40" stroke="#3a3a3a" stroke-width="1.25"/>
<circle cx="450.75" cy="195.80" r="0.95" fill="#1a1a1a"/>
<rect x="405.40" y="148.65" width="3.90" height="3.70" fill="#a3002b"/>
<text x="413.20" y="152.52" font-size="5.6" textLength="34.90" lengthAdjust="spacingAndGlyphs" fill="#231f20">Tet-on-shCNTL</text>
<rect x="405.40" y="154.75" width="3.90" height="3.70" fill="#26437b"/>
<text x="413.20" y="158.62" font-size="5.6" textLength="53.80" lengthAdjust="spacingAndGlyphs" fill="#231f20">Tet-on-shCNTL + DOX</text>
<rect x="405.40" y="160.45" width="3.90" height="3.70" fill="#64a83a"/>
<text x="413.20" y="164.32" font-size="5.6" textLength="33.60" lengthAdjust="spacingAndGlyphs" fill="#231f20">Tet-on-shGCK</text>
<rect x="405.40" y="166.35" width="3.90" height="3.70" fill="#4c1f5e"/>
<text x="413.20" y="170.22" font-size="5.6" textLength="51.90" lengthAdjust="spacingAndGlyphs" fill="#231f20">Tet-on-shGCK + DOX</text>
<text transform="translate(341.90,199.90) rotate(-90)" text-anchor="middle" font-size="7.4" textLength="44.80" lengthAdjust="spacingAndGlyphs" fill="#231f20">Percentage (%)</text>
<text x="373.80" y="246.40" font-size="6.6" textLength="8.60" lengthAdjust="spacingAndGlyphs" fill="#231f20">G1</text>
<text x="408.40" y="246.40" font-size="6.6" textLength="3.80" lengthAdjust="spacingAndGlyphs" fill="#231f20">S</text>
<text x="436.80" y="246.40" font-size="6.6" textLength="8.60" lengthAdjust="spacingAndGlyphs" fill="#231f20">G2</text>
<text x="383.70" y="261.40" font-size="8.8" textLength="54.90" lengthAdjust="spacingAndGlyphs" fill="#231f20">H929 (N-RAS<tspan font-size="6.51" dy="-3.70">G13D</tspan><tspan dy="3.70">)</tspan></text>
<line x1="65.40" y1="300.40" x2="65.40" y2="352.70" stroke="#000" stroke-width="1.05"/>
<line x1="64.90" y1="352.20" x2="117.20" y2="352.20" stroke="#000" stroke-width="1.05"/>
<line x1="62.80" y1="352.20" x2="65.40" y2="352.20" stroke="#000" stroke-width="0.85"/>
<text x="59.70" y="354.50" font-size="6.4" text-anchor="end" textLength="3.70" lengthAdjust="spacingAndGlyphs" fill="#231f20">0</text>
<line x1="62.80" y1="340.02" x2="65.40" y2="340.02" stroke="#000" stroke-width="0.85"/>
<text x="59.70" y="342.33" font-size="6.4" text-anchor="end" textLength="7.15" lengthAdjust="spacingAndGlyphs" fill="#231f20">10</text>
<line x1="62.80" y1="327.85" x2="65.40" y2="327.85" stroke="#000" stroke-width="0.85"/>
<text x="59.70" y="330.15" font-size="6.4" text-anchor="end" textLength="7.15" lengthAdjust="spacingAndGlyphs" fill="#231f20">20</text>
<line x1="62.80" y1="315.68" x2="65.40" y2="315.68" stroke="#000" stroke-width="0.85"/>
<text x="59.70" y="317.98" font-size="6.4" text-anchor="end" textLength="7.15" lengthAdjust="spacingAndGlyphs" fill="#231f20">30</text>
<line x1="62.80" y1="303.50" x2="65.40" y2="303.50" stroke="#000" stroke-width="0.85"/>
<text x="59.70" y="305.80" font-size="6.4" text-anchor="end" textLength="7.15" lengthAdjust="spacingAndGlyphs" fill="#231f20">40</text>
<line x1="78.40" y1="352.20" x2="78.40" y2="354.40" stroke="#000" stroke-width="0.85"/>
<line x1="103.90" y1="352.20" x2="103.90" y2="354.40" stroke="#000" stroke-width="0.85"/>
<rect x="70.80" y="338.10" width="6.10" height="14.10" fill="#a3002b"/>
<line x1="73.85" y1="338.10" x2="73.85" y2="335.30" stroke="#111" stroke-width="0.7"/>
<line x1="71.65" y1="335.30" x2="76.05" y2="335.30" stroke="#111" stroke-width="1.1"/>
<rect x="80.30" y="335.90" width="5.90" height="16.30" fill="#26437b"/>
<line x1="83.25" y1="335.90" x2="83.25" y2="334.70" stroke="#111" stroke-width="0.7"/>
<line x1="81.13" y1="334.70" x2="85.37" y2="334.70" stroke="#111" stroke-width="1.1"/>
<rect x="96.20" y="338.10" width="6.30" height="14.10" fill="#a3002b"/>
<line x1="99.35" y1="338.10" x2="99.35" y2="336.50" stroke="#111" stroke-width="0.7"/>
<line x1="97.08" y1="336.50" x2="101.62" y2="336.50" stroke="#111" stroke-width="1.1"/>
<rect x="105.90" y="313.20" width="6.00" height="39.00" fill="#26437b"/>
<line x1="108.90" y1="313.20" x2="108.90" y2="312.40" stroke="#111" stroke-width="0.7"/>
<line x1="106.74" y1="312.40" x2="111.06" y2="312.40" stroke="#111" stroke-width="1.1"/>
<line x1="94.20" y1="308.50" x2="109.50" y2="308.50" stroke="#3a3a3a" stroke-width="1.25"/>
<circle cx="102.05" cy="304.50" r="0.95" fill="#1a1a1a"/>
<rect x="70.00" y="281.00" width="8.20" height="4.80" fill="#a3002b"/>
<rect x="70.00" y="290.50" width="8.20" height="4.80" fill="#26437b"/>
<text x="81.00" y="285.63" font-size="6.2" textLength="17.80" lengthAdjust="spacingAndGlyphs" fill="#231f20">Vehicle</text>
<text x="81.00" y="295.13" font-size="6.2" textLength="10.23" lengthAdjust="spacingAndGlyphs" fill="#231f20">Dox</text>
<text transform="translate(46.80,325.80) rotate(-90)" text-anchor="middle" font-size="7.6" textLength="50.60" lengthAdjust="spacingAndGlyphs" fill="#231f20">Apoptotic cells %</text>
<text x="69.30" y="363.50" font-size="6.6" textLength="17.30" lengthAdjust="spacingAndGlyphs" fill="#231f20">Tet-on</text>
<text x="67.20" y="371.20" font-size="6.6" textLength="22.20" lengthAdjust="spacingAndGlyphs" fill="#231f20">shCNTL</text>
<text x="95.50" y="363.50" font-size="6.6" textLength="17.80" lengthAdjust="spacingAndGlyphs" fill="#231f20">Tet-on</text>
<text x="94.40" y="371.20" font-size="6.6" textLength="19.60" lengthAdjust="spacingAndGlyphs" fill="#231f20">shGCK</text>
<text x="63.00" y="386.10" font-size="8.7" textLength="56.90" lengthAdjust="spacingAndGlyphs" fill="#231f20">MM.1S (K-RAS<tspan font-size="6.44" dy="-3.65">G12A</tspan><tspan dy="3.65">)</tspan></text>
<line x1="162.30" y1="300.40" x2="162.30" y2="352.70" stroke="#000" stroke-width="1.05"/>
<line x1="161.80" y1="352.20" x2="214.60" y2="352.20" stroke="#000" stroke-width="1.05"/>
<line x1="159.70" y1="352.20" x2="162.30" y2="352.20" stroke="#000" stroke-width="0.85"/>
<text x="155.90" y="354.50" font-size="6.4" text-anchor="end" textLength="3.70" lengthAdjust="spacingAndGlyphs" fill="#231f20">0</text>
<line x1="159.70" y1="339.90" x2="162.30" y2="339.90" stroke="#000" stroke-width="0.85"/>
<text x="155.90" y="342.20" font-size="6.4" text-anchor="end" textLength="7.15" lengthAdjust="spacingAndGlyphs" fill="#231f20">10</text>
<line x1="159.70" y1="327.60" x2="162.30" y2="327.60" stroke="#000" stroke-width="0.85"/>
<text x="155.90" y="329.90" font-size="6.4" text-anchor="end" textLength="7.15" lengthAdjust="spacingAndGlyphs" fill="#231f20">20</text>
<line x1="159.70" y1="315.30" x2="162.30" y2="315.30" stroke="#000" stroke-width="0.85"/>
<text x="155.90" y="317.60" font-size="6.4" text-anchor="end" textLength="7.15" lengthAdjust="spacingAndGlyphs" fill="#231f20">30</text>
<line x1="159.70" y1="303.00" x2="162.30" y2="303.00" stroke="#000" stroke-width="0.85"/>
<text x="155.90" y="305.30" font-size="6.4" text-anchor="end" textLength="7.15" lengthAdjust="spacingAndGlyphs" fill="#231f20">40</text>
<line x1="175.40" y1="352.20" x2="175.40" y2="354.40" stroke="#000" stroke-width="0.85"/>
<line x1="200.80" y1="352.20" x2="200.80" y2="354.40" stroke="#000" stroke-width="0.85"/>
<rect x="167.70" y="343.50" width="5.80" height="8.70" fill="#a3002b"/>
<line x1="170.60" y1="343.50" x2="170.60" y2="342.70" stroke="#111" stroke-width="0.7"/>
<line x1="168.51" y1="342.70" x2="172.69" y2="342.70" stroke="#111" stroke-width="1.1"/>
<rect x="176.60" y="343.80" width="6.20" height="8.40" fill="#26437b"/>
<line x1="179.70" y1="343.80" x2="179.70" y2="341.50" stroke="#111" stroke-width="0.7"/>
<line x1="177.47" y1="341.50" x2="181.93" y2="341.50" stroke="#111" stroke-width="1.1"/>
<rect x="193.10" y="344.20" width="5.80" height="8.00" fill="#a3002b"/>
<line x1="196.00" y1="344.20" x2="196.00" y2="341.50" stroke="#111" stroke-width="0.7"/>
<line x1="193.91" y1="341.50" x2="198.09" y2="341.50" stroke="#111" stroke-width="1.1"/>
<rect x="202.30" y="317.00" width="6.20" height="35.20" fill="#26437b"/>
<line x1="205.40" y1="317.00" x2="205.40" y2="316.50" stroke="#111" stroke-width="0.7"/>
<line x1="203.17" y1="316.50" x2="207.63" y2="316.50" stroke="#111" stroke-width="1.1"/>
<line x1="194.20" y1="308.80" x2="210.00" y2="308.80" stroke="#3a3a3a" stroke-width="1.25"/>
<circle cx="202.30" cy="305.50" r="0.95" fill="#1a1a1a"/>
<rect x="168.20" y="281.10" width="8.30" height="4.80" fill="#a3002b"/>
<rect x="168.20" y="290.00" width="8.30" height="4.80" fill="#26437b"/>
<text x="179.00" y="285.73" font-size="6.2" textLength="17.00" lengthAdjust="spacingAndGlyphs" fill="#231f20">Vehicle</text>
<text x="179.00" y="294.63" font-size="6.2" textLength="9.77" lengthAdjust="spacingAndGlyphs" fill="#231f20">Dox</text>
<text transform="translate(143.20,326.40) rotate(-90)" text-anchor="middle" font-size="7.6" textLength="49.80" lengthAdjust="spacingAndGlyphs" fill="#231f20">Apoptotic cells %</text>
<text x="165.60" y="363.30" font-size="6.6" textLength="19.20" lengthAdjust="spacingAndGlyphs" fill="#231f20">Tet-on</text>
<text x="163.60" y="371.40" font-size="6.6" textLength="23.10" lengthAdjust="spacingAndGlyphs" fill="#231f20">shCNTL</text>
<text x="191.30" y="363.30" font-size="6.6" textLength="18.90" lengthAdjust="spacingAndGlyphs" fill="#231f20">Tet-on</text>
<text x="190.60" y="371.40" font-size="6.6" textLength="20.70" lengthAdjust="spacingAndGlyphs" fill="#231f20">shGCK</text>
<text x="153.60" y="386.00" font-size="8.7" textLength="70.40" lengthAdjust="spacingAndGlyphs" fill="#231f20">RPMI-8226 (K-RAS<tspan font-size="6.44" dy="-3.65">G12A</tspan><tspan dy="3.65">)</tspan></text>
<line x1="259.20" y1="298.40" x2="259.20" y2="350.60" stroke="#000" stroke-width="1.05"/>
<line x1="258.70" y1="350.10" x2="311.20" y2="350.10" stroke="#000" stroke-width="1.05"/>
<line x1="256.60" y1="350.10" x2="259.20" y2="350.10" stroke="#000" stroke-width="0.85"/>
<text x="253.20" y="352.40" font-size="6.4" text-anchor="end" textLength="3.70" lengthAdjust="spacingAndGlyphs" fill="#231f20">0</text>
<line x1="256.60" y1="337.88" x2="259.20" y2="337.88" stroke="#000" stroke-width="0.85"/>
<text x="253.20" y="340.18" font-size="6.4" text-anchor="end" textLength="7.15" lengthAdjust="spacingAndGlyphs" fill="#231f20">20</text>
<line x1="256.60" y1="325.65" x2="259.20" y2="325.65" stroke="#000" stroke-width="0.85"/>
<text x="253.20" y="327.95" font-size="6.4" text-anchor="end" textLength="7.15" lengthAdjust="spacingAndGlyphs" fill="#231f20">40</text>
<line x1="256.60" y1="313.43" x2="259.20" y2="313.43" stroke="#000" stroke-width="0.85"/>
<text x="253.20" y="315.73" font-size="6.4" text-anchor="end" textLength="7.15" lengthAdjust="spacingAndGlyphs" fill="#231f20">60</text>
<line x1="256.60" y1="301.20" x2="259.20" y2="301.20" stroke="#000" stroke-width="0.85"/>
<text x="253.20" y="303.50" font-size="6.4" text-anchor="end" textLength="7.15" lengthAdjust="spacingAndGlyphs" fill="#231f20">80</text>
<line x1="271.90" y1="350.10" x2="271.90" y2="352.30" stroke="#000" stroke-width="0.85"/>
<line x1="297.30" y1="350.10" x2="297.30" y2="352.30" stroke="#000" stroke-width="0.85"/>
<rect x="264.20" y="344.20" width="6.20" height="5.90" fill="#a3002b"/>
<line x1="267.30" y1="344.20" x2="267.30" y2="343.20" stroke="#111" stroke-width="0.7"/>
<line x1="265.07" y1="343.20" x2="269.53" y2="343.20" stroke="#111" stroke-width="1.1"/>
<rect x="273.50" y="344.20" width="6.10" height="5.90" fill="#26437b"/>
<line x1="276.55" y1="344.20" x2="276.55" y2="343.40" stroke="#111" stroke-width="0.7"/>
<line x1="274.35" y1="343.40" x2="278.75" y2="343.40" stroke="#111" stroke-width="1.1"/>
<rect x="289.60" y="345.00" width="6.20" height="5.10" fill="#a3002b"/>
<line x1="292.70" y1="345.00" x2="292.70" y2="342.40" stroke="#111" stroke-width="0.7"/>
<line x1="290.47" y1="342.40" x2="294.93" y2="342.40" stroke="#111" stroke-width="1.1"/>
<rect x="299.30" y="310.10" width="6.00" height="40.00" fill="#26437b"/>
<line x1="302.30" y1="310.10" x2="302.30" y2="305.50" stroke="#111" stroke-width="0.7"/>
<line x1="300.14" y1="305.50" x2="304.46" y2="305.50" stroke="#111" stroke-width="1.1"/>
<line x1="288.80" y1="301.90" x2="305.00" y2="301.90" stroke="#3a3a3a" stroke-width="1.25"/>
<circle cx="297.10" cy="298.10" r="0.95" fill="#1a1a1a"/>
<rect x="263.50" y="279.10" width="8.50" height="4.80" fill="#a3002b"/>
<rect x="263.50" y="288.00" width="8.50" height="4.80" fill="#26437b"/>
<text x="275.00" y="283.73" font-size="6.2" textLength="16.90" lengthAdjust="spacingAndGlyphs" fill="#231f20">Vehicle</text>
<text x="275.00" y="292.63" font-size="6.2" textLength="9.72" lengthAdjust="spacingAndGlyphs" fill="#231f20">Dox</text>
<text transform="translate(240.00,324.20) rotate(-90)" text-anchor="middle" font-size="7.6" textLength="50.40" lengthAdjust="spacingAndGlyphs" fill="#231f20">Apoptotic cells %</text>
<text x="263.30" y="361.20" font-size="6.6" textLength="18.10" lengthAdjust="spacingAndGlyphs" fill="#231f20">Tet-on</text>
<text x="261.00" y="369.90" font-size="6.6" textLength="21.90" lengthAdjust="spacingAndGlyphs" fill="#231f20">shCNTL</text>
<text x="288.60" y="361.20" font-size="6.6" textLength="18.10" lengthAdjust="spacingAndGlyphs" fill="#231f20">Tet-on</text>
<text x="287.60" y="369.90" font-size="6.6" textLength="19.60" lengthAdjust="spacingAndGlyphs" fill="#231f20">shGCK</text>
<text x="258.10" y="385.20" font-size="8.7" textLength="54.90" lengthAdjust="spacingAndGlyphs" fill="#231f20">H929 (N-RAS<tspan font-size="6.44" dy="-3.65">G13D</tspan><tspan dy="3.65">)</tspan></text>
<line x1="69.20" y1="443.80" x2="69.20" y2="493.10" stroke="#000" stroke-width="1.05"/>
<line x1="68.70" y1="492.60" x2="124.60" y2="492.60" stroke="#000" stroke-width="1.05"/>
<line x1="66.60" y1="492.60" x2="69.20" y2="492.60" stroke="#000" stroke-width="0.85"/>
<text x="63.20" y="494.90" font-size="6.4" text-anchor="end" textLength="3.70" lengthAdjust="spacingAndGlyphs" fill="#231f20">0</text>
<line x1="66.60" y1="481.08" x2="69.20" y2="481.08" stroke="#000" stroke-width="0.85"/>
<text x="63.20" y="483.38" font-size="6.4" text-anchor="end" textLength="7.15" lengthAdjust="spacingAndGlyphs" fill="#231f20">30</text>
<line x1="66.60" y1="469.55" x2="69.20" y2="469.55" stroke="#000" stroke-width="0.85"/>
<text x="63.20" y="471.85" font-size="6.4" text-anchor="end" textLength="7.15" lengthAdjust="spacingAndGlyphs" fill="#231f20">60</text>
<line x1="66.60" y1="458.02" x2="69.20" y2="458.02" stroke="#000" stroke-width="0.85"/>
<text x="63.20" y="460.33" font-size="6.4" text-anchor="end" textLength="7.15" lengthAdjust="spacingAndGlyphs" fill="#231f20">90</text>
<line x1="66.60" y1="446.50" x2="69.20" y2="446.50" stroke="#000" stroke-width="0.85"/>
<text x="63.20" y="448.80" font-size="6.4" text-anchor="end" textLength="10.60" lengthAdjust="spacingAndGlyphs" fill="#231f20">120</text>
<line x1="82.40" y1="492.60" x2="82.40" y2="494.80" stroke="#000" stroke-width="0.85"/>
<line x1="110.40" y1="492.60" x2="110.40" y2="494.80" stroke="#000" stroke-width="0.85"/>
<rect x="75.00" y="454.20" width="5.80" height="38.40" fill="#a3002b"/>
<line x1="77.90" y1="454.20" x2="77.90" y2="452.30" stroke="#111" stroke-width="0.7"/>
<line x1="75.81" y1="452.30" x2="79.99" y2="452.30" stroke="#111" stroke-width="1.1"/>
<rect x="85.30" y="454.60" width="5.90" height="38.00" fill="#26437b"/>
<line x1="88.25" y1="454.60" x2="88.25" y2="452.60" stroke="#111" stroke-width="0.7"/>
<line x1="86.13" y1="452.60" x2="90.37" y2="452.60" stroke="#111" stroke-width="1.1"/>
<rect x="102.20" y="454.40" width="6.20" height="38.20" fill="#a3002b"/>
<line x1="105.30" y1="454.40" x2="105.30" y2="452.90" stroke="#111" stroke-width="0.7"/>
<line x1="103.07" y1="452.90" x2="107.53" y2="452.90" stroke="#111" stroke-width="1.1"/>
<rect x="112.70" y="452.20" width="5.90" height="40.40" fill="#26437b"/>
<line x1="115.65" y1="452.20" x2="115.65" y2="451.80" stroke="#111" stroke-width="0.7"/>
<line x1="113.53" y1="451.80" x2="117.77" y2="451.80" stroke="#111" stroke-width="1.1"/>
<rect x="74.00" y="424.00" width="8.40" height="4.70" fill="#a3002b"/>
<rect x="74.00" y="433.20" width="8.40" height="4.70" fill="#26437b"/>
<text x="85.00" y="428.58" font-size="6.2" textLength="17.00" lengthAdjust="spacingAndGlyphs" fill="#231f20">Vehicle</text>
<text x="85.00" y="437.78" font-size="6.2" textLength="9.77" lengthAdjust="spacingAndGlyphs" fill="#231f20">Dox</text>
<text transform="translate(47.60,468.60) rotate(-90)" text-anchor="middle" font-size="8.2" textLength="97.00" lengthAdjust="spacingAndGlyphs" fill="#231f20">Proliferation relative to control %</text>
<text x="74.30" y="504.50" font-size="6.6" textLength="17.80" lengthAdjust="spacingAndGlyphs" fill="#231f20">Tet-on</text>
<text x="71.30" y="513.10" font-size="6.6" textLength="22.40" lengthAdjust="spacingAndGlyphs" fill="#231f20">shCNTL</text>
<text x="101.40" y="504.50" font-size="6.6" textLength="18.40" lengthAdjust="spacingAndGlyphs" fill="#231f20">Tet-on</text>
<text x="100.10" y="513.10" font-size="6.6" textLength="20.60" lengthAdjust="spacingAndGlyphs" fill="#231f20">shGCK</text>
<text x="78.50" y="527.50" font-size="8.4" textLength="37.90" lengthAdjust="spacingAndGlyphs" fill="#231f20">LP-1 (RAS<tspan font-size="6.22" dy="-3.53">WT</tspan><tspan dy="3.53">)</tspan></text>
<line x1="168.80" y1="443.80" x2="168.80" y2="493.10" stroke="#000" stroke-width="1.05"/>
<line x1="168.30" y1="492.60" x2="223.70" y2="492.60" stroke="#000" stroke-width="1.05"/>
<line x1="166.20" y1="492.60" x2="168.80" y2="492.60" stroke="#000" stroke-width="0.85"/>
<text x="163.10" y="494.90" font-size="6.4" text-anchor="end" textLength="3.70" lengthAdjust="spacingAndGlyphs" fill="#231f20">0</text>
<line x1="166.20" y1="481.08" x2="168.80" y2="481.08" stroke="#000" stroke-width="0.85"/>
<text x="163.10" y="483.38" font-size="6.4" text-anchor="end" textLength="7.15" lengthAdjust="spacingAndGlyphs" fill="#231f20">30</text>
<line x1="166.20" y1="469.55" x2="168.80" y2="469.55" stroke="#000" stroke-width="0.85"/>
<text x="163.10" y="471.85" font-size="6.4" text-anchor="end" textLength="7.15" lengthAdjust="spacingAndGlyphs" fill="#231f20">60</text>
<line x1="166.20" y1="458.02" x2="168.80" y2="458.02" stroke="#000" stroke-width="0.85"/>
<text x="163.10" y="460.33" font-size="6.4" text-anchor="end" textLength="7.15" lengthAdjust="spacingAndGlyphs" fill="#231f20">90</text>
<line x1="166.20" y1="446.50" x2="168.80" y2="446.50" stroke="#000" stroke-width="0.85"/>
<text x="163.10" y="448.80" font-size="6.4" text-anchor="end" textLength="10.60" lengthAdjust="spacingAndGlyphs" fill="#231f20">120</text>
<line x1="182.20" y1="492.60" x2="182.20" y2="494.80" stroke="#000" stroke-width="0.85"/>
<line x1="209.50" y1="492.60" x2="209.50" y2="494.80" stroke="#000" stroke-width="0.85"/>
<rect x="174.60" y="454.20" width="6.00" height="38.40" fill="#a3002b"/>
<line x1="177.60" y1="454.20" x2="177.60" y2="452.20" stroke="#111" stroke-width="0.7"/>
<line x1="175.44" y1="452.20" x2="179.76" y2="452.20" stroke="#111" stroke-width="1.1"/>
<rect x="184.60" y="456.00" width="6.20" height="36.60" fill="#26437b"/>
<line x1="187.70" y1="456.00" x2="187.70" y2="454.50" stroke="#111" stroke-width="0.7"/>
<line x1="185.47" y1="454.50" x2="189.93" y2="454.50" stroke="#111" stroke-width="1.1"/>
<rect x="201.50" y="454.20" width="6.00" height="38.40" fill="#a3002b"/>
<line x1="204.50" y1="454.20" x2="204.50" y2="452.90" stroke="#111" stroke-width="0.7"/>
<line x1="202.34" y1="452.90" x2="206.66" y2="452.90" stroke="#111" stroke-width="1.1"/>
<rect x="211.80" y="456.80" width="6.20" height="35.80" fill="#26437b"/>
<line x1="214.90" y1="456.80" x2="214.90" y2="454.90" stroke="#111" stroke-width="0.7"/>
<line x1="212.67" y1="454.90" x2="217.13" y2="454.90" stroke="#111" stroke-width="1.1"/>
<rect x="173.90" y="424.00" width="8.40" height="4.70" fill="#a3002b"/>
<rect x="173.90" y="433.20" width="8.40" height="4.70" fill="#26437b"/>
<text x="185.00" y="428.58" font-size="6.2" textLength="16.80" lengthAdjust="spacingAndGlyphs" fill="#231f20">Vehicle</text>
<text x="185.00" y="437.78" font-size="6.2" textLength="9.66" lengthAdjust="spacingAndGlyphs" fill="#231f20">Dox</text>
<text transform="translate(147.60,468.60) rotate(-90)" text-anchor="middle" font-size="8.2" textLength="97.00" lengthAdjust="spacingAndGlyphs" fill="#231f20">Proliferation relative to control %</text>
<text x="173.60" y="504.50" font-size="6.6" textLength="18.40" lengthAdjust="spacingAndGlyphs" fill="#231f20">Tet-on</text>
<text x="170.90" y="513.10" font-size="6.6" textLength="23.10" lengthAdjust="spacingAndGlyphs" fill="#231f20">shCNTL</text>
<text x="200.90" y="504.50" font-size="6.6" textLength="18.40" lengthAdjust="spacingAndGlyphs" fill="#231f20">Tet-on</text>
<text x="199.80" y="513.10" font-size="6.6" textLength="20.40" lengthAdjust="spacingAndGlyphs" fill="#231f20">shGCK</text>
<text x="175.70" y="527.20" font-size="8.4" textLength="41.90" lengthAdjust="spacingAndGlyphs" fill="#231f20">U266 (RAS<tspan font-size="6.22" dy="-3.53">WT</tspan><tspan dy="3.53">)</tspan></text>
<line x1="264.20" y1="441.10" x2="264.20" y2="493.10" stroke="#000" stroke-width="1.05"/>
<line x1="263.70" y1="492.60" x2="316.60" y2="492.60" stroke="#000" stroke-width="1.05"/>
<line x1="261.60" y1="492.60" x2="264.20" y2="492.60" stroke="#000" stroke-width="0.85"/>
<text x="258.50" y="494.90" font-size="6.4" text-anchor="end" textLength="3.70" lengthAdjust="spacingAndGlyphs" fill="#231f20">0</text>
<line x1="261.60" y1="480.40" x2="264.20" y2="480.40" stroke="#000" stroke-width="0.85"/>
<text x="258.50" y="482.70" font-size="6.4" text-anchor="end" textLength="7.15" lengthAdjust="spacingAndGlyphs" fill="#231f20">10</text>
<line x1="261.60" y1="468.20" x2="264.20" y2="468.20" stroke="#000" stroke-width="0.85"/>
<text x="258.50" y="470.50" font-size="6.4" text-anchor="end" textLength="7.15" lengthAdjust="spacingAndGlyphs" fill="#231f20">20</text>
<line x1="261.60" y1="456.00" x2="264.20" y2="456.00" stroke="#000" stroke-width="0.85"/>
<text x="258.50" y="458.30" font-size="6.4" text-anchor="end" textLength="7.15" lengthAdjust="spacingAndGlyphs" fill="#231f20">30</text>
<line x1="261.60" y1="443.80" x2="264.20" y2="443.80" stroke="#000" stroke-width="0.85"/>
<text x="258.50" y="446.10" font-size="6.4" text-anchor="end" textLength="7.15" lengthAdjust="spacingAndGlyphs" fill="#231f20">40</text>
<line x1="277.40" y1="492.60" x2="277.40" y2="494.80" stroke="#000" stroke-width="0.85"/>
<line x1="303.10" y1="492.60" x2="303.10" y2="494.80" stroke="#000" stroke-width="0.85"/>
<rect x="270.00" y="484.90" width="6.20" height="7.70" fill="#a3002b"/>
<line x1="273.10" y1="484.90" x2="273.10" y2="483.50" stroke="#111" stroke-width="0.7"/>
<line x1="270.87" y1="483.50" x2="275.33" y2="483.50" stroke="#111" stroke-width="1.1"/>
<rect x="279.20" y="484.90" width="5.90" height="7.70" fill="#26437b"/>
<line x1="282.15" y1="484.90" x2="282.15" y2="483.50" stroke="#111" stroke-width="0.7"/>
<line x1="280.03" y1="483.50" x2="284.27" y2="483.50" stroke="#111" stroke-width="1.1"/>
<rect x="295.70" y="484.60" width="5.80" height="8.00" fill="#a3002b"/>
<line x1="298.60" y1="484.60" x2="298.60" y2="484.20" stroke="#111" stroke-width="0.7"/>
<line x1="296.51" y1="484.20" x2="300.69" y2="484.20" stroke="#111" stroke-width="1.1"/>
<rect x="304.90" y="484.90" width="5.90" height="7.70" fill="#26437b"/>
<line x1="307.85" y1="484.90" x2="307.85" y2="484.50" stroke="#111" stroke-width="0.7"/>
<line x1="305.73" y1="484.50" x2="309.97" y2="484.50" stroke="#111" stroke-width="1.1"/>
<rect x="269.30" y="424.20" width="8.30" height="4.60" fill="#a3002b"/>
<rect x="269.30" y="433.20" width="8.30" height="4.60" fill="#26437b"/>
<text x="280.40" y="428.66" font-size="6.0" textLength="16.60" lengthAdjust="spacingAndGlyphs" fill="#231f20">Vehicle</text>
<text x="280.40" y="437.66" font-size="6.0" textLength="9.54" lengthAdjust="spacingAndGlyphs" fill="#231f20">Dox</text>
<text transform="translate(244.90,467.10) rotate(-90)" text-anchor="middle" font-size="7.6" textLength="49.80" lengthAdjust="spacingAndGlyphs" fill="#231f20">Apoptotic cells %</text>
<text x="269.00" y="504.00" font-size="6.6" textLength="18.10" lengthAdjust="spacingAndGlyphs" fill="#231f20">Tet-on</text>
<text x="266.30" y="512.70" font-size="6.6" textLength="22.40" lengthAdjust="spacingAndGlyphs" fill="#231f20">shCNTL</text>
<text x="294.40" y="504.00" font-size="6.6" textLength="18.40" lengthAdjust="spacingAndGlyphs" fill="#231f20">Tet-on</text>
<text x="293.30" y="512.70" font-size="6.6" textLength="20.00" lengthAdjust="spacingAndGlyphs" fill="#231f20">shGCK</text>
<text x="271.90" y="526.90" font-size="8.4" textLength="37.30" lengthAdjust="spacingAndGlyphs" fill="#231f20">LP-1 (RAS<tspan font-size="6.22" dy="-3.53">WT</tspan><tspan dy="3.53">)</tspan></text>
<line x1="356.90" y1="441.10" x2="356.90" y2="493.10" stroke="#000" stroke-width="1.05"/>
<line x1="356.40" y1="492.60" x2="408.60" y2="492.60" stroke="#000" stroke-width="1.05"/>
<line x1="354.30" y1="492.60" x2="356.90" y2="492.60" stroke="#000" stroke-width="0.85"/>
<text x="350.90" y="494.90" font-size="6.4" text-anchor="end" textLength="3.70" lengthAdjust="spacingAndGlyphs" fill="#231f20">0</text>
<line x1="354.30" y1="480.40" x2="356.90" y2="480.40" stroke="#000" stroke-width="0.85"/>
<text x="350.90" y="482.70" font-size="6.4" text-anchor="end" textLength="7.15" lengthAdjust="spacingAndGlyphs" fill="#231f20">10</text>
<line x1="354.30" y1="468.20" x2="356.90" y2="468.20" stroke="#000" stroke-width="0.85"/>
<text x="350.90" y="470.50" font-size="6.4" text-anchor="end" textLength="7.15" lengthAdjust="spacingAndGlyphs" fill="#231f20">20</text>
<line x1="354.30" y1="456.00" x2="356.90" y2="456.00" stroke="#000" stroke-width="0.85"/>
<text x="350.90" y="458.30" font-size="6.4" text-anchor="end" textLength="7.15" lengthAdjust="spacingAndGlyphs" fill="#231f20">30</text>
<line x1="354.30" y1="443.80" x2="356.90" y2="443.80" stroke="#000" stroke-width="0.85"/>
<text x="350.90" y="446.10" font-size="6.4" text-anchor="end" textLength="7.15" lengthAdjust="spacingAndGlyphs" fill="#231f20">40</text>
<line x1="369.70" y1="492.60" x2="369.70" y2="494.80" stroke="#000" stroke-width="0.85"/>
<line x1="395.40" y1="492.60" x2="395.40" y2="494.80" stroke="#000" stroke-width="0.85"/>
<rect x="362.80" y="484.50" width="5.80" height="8.10" fill="#a3002b"/>
<line x1="365.70" y1="484.50" x2="365.70" y2="484.10" stroke="#111" stroke-width="0.7"/>
<line x1="363.61" y1="484.10" x2="367.79" y2="484.10" stroke="#111" stroke-width="1.1"/>
<rect x="372.00" y="483.80" width="5.80" height="8.80" fill="#26437b"/>
<line x1="374.90" y1="483.80" x2="374.90" y2="483.10" stroke="#111" stroke-width="0.7"/>
<line x1="372.81" y1="483.10" x2="376.99" y2="483.10" stroke="#111" stroke-width="1.1"/>
<rect x="388.20" y="484.50" width="5.80" height="8.10" fill="#a3002b"/>
<line x1="391.10" y1="484.50" x2="391.10" y2="484.10" stroke="#111" stroke-width="0.7"/>
<line x1="389.01" y1="484.10" x2="393.19" y2="484.10" stroke="#111" stroke-width="1.1"/>
<rect x="397.80" y="482.60" width="5.90" height="10.00" fill="#26437b"/>
<line x1="400.75" y1="482.60" x2="400.75" y2="482.20" stroke="#111" stroke-width="0.7"/>
<line x1="398.63" y1="482.20" x2="402.87" y2="482.20" stroke="#111" stroke-width="1.1"/>
<rect x="362.00" y="424.20" width="8.40" height="4.60" fill="#a3002b"/>
<rect x="362.00" y="433.20" width="8.40" height="4.60" fill="#26437b"/>
<text x="373.20" y="428.66" font-size="6.0" textLength="16.80" lengthAdjust="spacingAndGlyphs" fill="#231f20">Vehicle</text>
<text x="373.20" y="437.66" font-size="6.0" textLength="9.66" lengthAdjust="spacingAndGlyphs" fill="#231f20">Dox</text>
<text transform="translate(338.40,467.10) rotate(-90)" text-anchor="middle" font-size="7.6" textLength="49.80" lengthAdjust="spacingAndGlyphs" fill="#231f20">Apoptotic cells %</text>
<text x="361.80" y="504.00" font-size="6.6" textLength="17.80" lengthAdjust="spacingAndGlyphs" fill="#231f20">Tet-on</text>
<text x="359.00" y="512.70" font-size="6.6" textLength="22.40" lengthAdjust="spacingAndGlyphs" fill="#231f20">shCNTL</text>
<text x="387.20" y="504.00" font-size="6.6" textLength="18.10" lengthAdjust="spacingAndGlyphs" fill="#231f20">Tet-on</text>
<text x="386.00" y="512.70" font-size="6.6" textLength="20.00" lengthAdjust="spacingAndGlyphs" fill="#231f20">shGCK</text>
<text x="362.80" y="526.90" font-size="8.4" textLength="41.30" lengthAdjust="spacingAndGlyphs" fill="#231f20">U266 (RAS<tspan font-size="6.22" dy="-3.53">WT</tspan><tspan dy="3.53">)</tspan></text>
</svg>
</body></html>
